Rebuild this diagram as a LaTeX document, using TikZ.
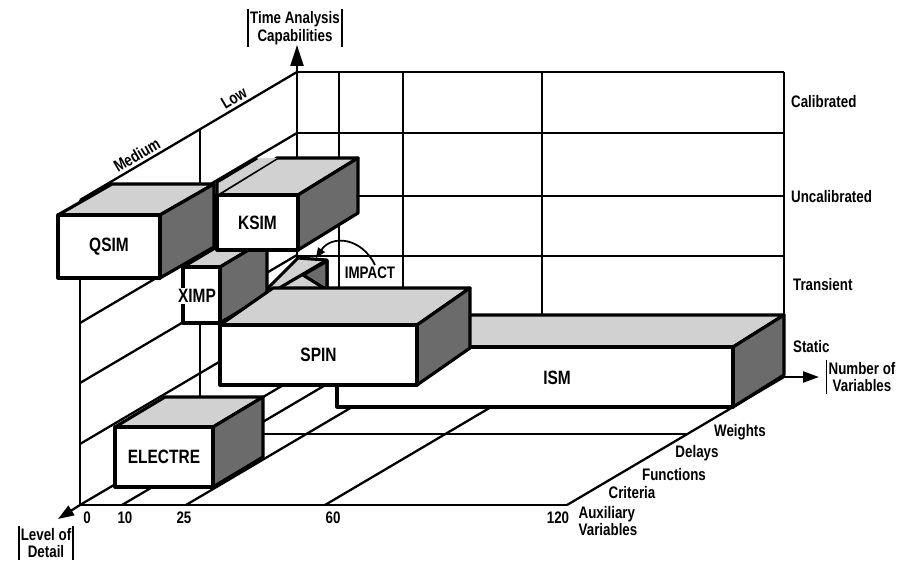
\documentclass[tikz,border=0pt]{standalone}
\usepackage{fontspec}
\setmainfont{Liberation Sans}[FakeStretch=0.8]
\usetikzlibrary{arrows.meta}
\definecolor{topgray}{gray}{0.82}
\definecolor{sidegray}{gray}{0.42}
\newcommand\lblfont{\bfseries\fontsize{9.5}{10.2}\selectfont}
\newcommand\boxfont{\bfseries\fontsize{11}{12}\selectfont}
\newcommand\simbox[8]{%
\filldraw[topface] (#2,#4)--(#2+#6,#4-#7)--(#3+#6,#4-#7)--(#3,#4)--cycle;
\filldraw[sideface] (#3,#4)--(#3+#6,#4-#7)--(#3+#6,#5-#7)--(#3,#5)--cycle;
\filldraw[frontface] (#2,#4) rectangle (#3,#5);
\node[boxlbl] (#1) at ({(#2+#3)/2},{(#4+#5)/2}) {#8};}

\begin{document}
\begin{tikzpicture}[x=0.02cm,y=-0.02cm,line join=round,
grid/.style={line width=1.3pt},
boxline/.style={line width=1.8pt},
topface/.style={boxline,fill=topgray},
sideface/.style={boxline,fill=sidegray},
frontface/.style={boxline,fill=white},
boxlbl/.style={font=\boxfont,inner sep=0pt},
lbl/.style={font=\lblfont,inner sep=1pt},
axisarr/.style={line width=1.3pt,-{Triangle[length=0.42cm,width=0.26cm]}},
smallarr/.style={line width=1.3pt,-{Triangle[length=0.32cm,width=0.22cm]}}]
\useasboundingbox (0,0) rectangle (903,561);
\foreach\y in{72,133,196,256,316,377} \draw[grid] (297,\y)--(784,\y);
\foreach\x in{339,403,542,784} \draw[grid] (\x,72)--(\x,377);
\foreach\y in{200,261,323,383,444} \draw[grid] (80,\y)--(297,\y-128);
\foreach\x in{80,122,186,325,567} \draw[grid] (\x,505)--(\x+217,377);
\draw[grid] (80,505)--(567,505) (200,434)--(687,434) (200,434)--(200,130) (80,505)--(80,200);
\coordinate (orig) at (297,377); \coordinate (ttip) at (297,45);
\coordinate (front) at (80,505); \coordinate (dtip) at (58,519);
\draw[axisarr] (orig)--(ttip);
\draw[smallarr] (front)--(dtip);
\simbox{ism}{337}{733}{347}{407}{51}{32}{}
\node[boxlbl] (ismlbl) at (557,378) {ISM};
\filldraw[topface] (262,294)--(298,258)--(327,260)--(327,290)--(270,290)--cycle;
\filldraw[sideface] (303,275)--(327,261)--(327,290)--cycle;
\simbox{ximp}{183}{220}{267}{323}{47}{28}{}
\node[boxlbl,fill=white,inner sep=0.5pt] (ximplbl) at (197,296) {XIMP};
\draw[boxline] (220,323)--(327,260);
\simbox{spin}{220}{417}{325}{385}{53}{37}{SPIN}
\simbox{qsim}{58}{160}{215}{278}{54}{31}{QSIM}
\simbox{ksim}{217}{298}{195}{250}{60}{37}{KSIM}
\fill[topgray] (218,194)--(218,182)--(257,158)--(277,158)--cycle;
\draw[boxline] (217,195)--(217,182)--(257,158);
\simbox{electre}{115}{213}{427}{487}{50}{30}{ELECTRE}
\coordinate (varend) at (784,377); \coordinate (vtip) at (819,377);
\draw[smallarr] (varend)--(vtip);
\node[lbl] (impact) at (370,273) {IMPACT};
\coordinate (imptip) at (316,258);
\draw[line width=1pt,-{Triangle[length=0.2cm,width=0.16cm]}] ([xshift=0.1cm]impact.north) .. controls (362,238) and (332,234) .. (imptip);
\node[lbl,align=center] (tac) at (295,28) {Time Analysis\\Capabilities};
\draw[line width=1pt] (tac.north west)--(tac.south west) (tac.north east)--(tac.south east);
\node[lbl,align=center] (nov) at (862,377) {Number of\\Variables};
\draw[line width=1pt] (nov.north west)--(nov.south west);
\node[lbl,align=center] (lod) at (46,543) {Level of\\Detail};
\draw[line width=1pt] (lod.north west)--(lod.south west) (lod.north east)--(lod.south east);
\node[lbl,rotate=30.5,anchor=south] (med) at (141,162) {Medium};
\node[lbl,rotate=30.5,anchor=south] (low) at (238,105) {Low};
\node[lbl,anchor=west] (cal) at (789,102) {Calibrated};
\node[lbl,anchor=west] (unc) at (789,197) {Uncalibrated};
\node[lbl,anchor=west] (tra) at (791,285) {Transient};
\node[lbl,anchor=west] (sta) at (791,347) {Static};
\node[lbl] (t0) at (87,518) {0};
\node[lbl] (t10) at (125,518) {10};
\node[lbl] (t25) at (184,518) {25};
\node[lbl] (t60) at (333,518) {60};
\node[lbl] (t120) at (558,518) {120};
\node[lbl] (wts) at (740,432) {Weights};
\node[lbl] (dly) at (697,453) {Delays};
\node[lbl] (fun) at (674,475) {Functions};
\node[lbl] (cri) at (632,493) {Criteria};
\node[lbl,align=left] (aux) at (608,521) {Auxiliary\\Variables};
\end{tikzpicture}
\end{document}
